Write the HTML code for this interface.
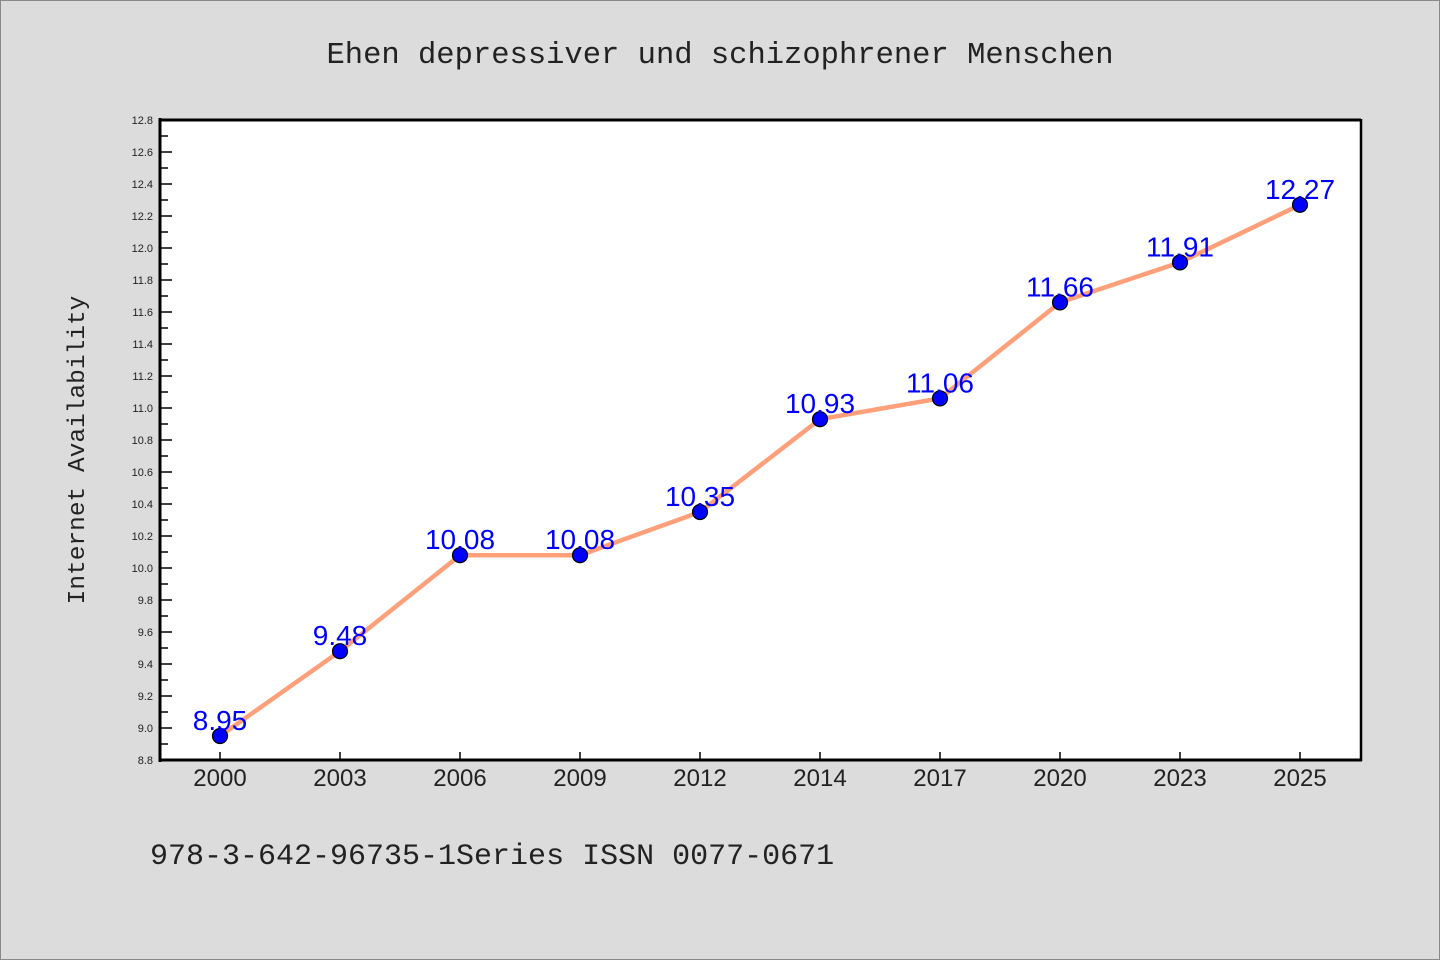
<!DOCTYPE html>
<html><head><meta charset="utf-8"><style>
html,body{margin:0;padding:0;background:#dcdcdc;}
svg{display:block;}
</style></head><body>
<svg width="1440" height="960" xmlns="http://www.w3.org/2000/svg">
<rect x="0.5" y="0.5" width="1439" height="959" fill="#dcdcdc" stroke="#888"/>
<text x="720" y="63" text-anchor="middle" font-family="'Liberation Mono','DejaVu Sans Mono',monospace" font-size="30.5" fill="#222">Ehen depressiver und schizophrener Menschen</text>
<rect x="160" y="120" width="1200" height="640" fill="#fff"/>
<g id="axes"></g>
<g id="series"></g>
<line x1="160" y1="120" x2="1361" y2="120" stroke="#000" stroke-width="3"/>
<line x1="1361" y1="119" x2="1361" y2="761" stroke="#000" stroke-width="2.5"/>
<line x1="160" y1="760" x2="1362" y2="760" stroke="#000" stroke-width="3"/>
<line x1="160" y1="118" x2="160" y2="762" stroke="#000" stroke-width="3"/>
<text transform="translate(84,450) rotate(-90)" text-anchor="middle" font-family="'Liberation Mono','DejaVu Sans Mono',monospace" font-size="24.5" fill="#222">Internet Availability</text>
<text x="150" y="864" font-family="'Liberation Mono','DejaVu Sans Mono',monospace" font-size="30" fill="#222">978-3-642-96735-1Series ISSN 0077-0671</text>
</svg>
<script>
const categories=["2000","2003","2006","2009","2012","2014","2017","2020","2023","2025"];
const values=[8.95,9.48,10.08,10.08,10.35,10.93,11.06,11.66,11.91,12.27];
const yTicks=["8.8","9.0","9.2","9.4","9.6","9.8","10.0","10.2","10.4","10.6","10.8","11.0","11.2","11.4","11.6","11.8","12.0","12.2","12.4","12.6","12.8"];
const NS="http://www.w3.org/2000/svg";
const yMin=8.8,yMax=12.8,pTop=120,pBot=760,pLeft=160,pRight=1360;
function yS(v){return pBot-(v-yMin)/(yMax-yMin)*(pBot-pTop);}
function xS(i){return pLeft+60+i*120;}
function mk(t,a){const e=document.createElementNS(NS,t);for(const k in a)e.setAttribute(k,a[k]);return e;}
const axes=document.getElementById('axes'),ser=document.getElementById('series');
yTicks.forEach(t=>{const v=parseFloat(t);const yy=yS(v);
 const l=mk('line',{x1:pLeft,x2:pLeft+12,y1:yy,y2:yy,stroke:'#000','stroke-width':1.5});
 
 
 axes.appendChild(l);
 if(v<yMax-0.01){const m=mk('line',{x1:pLeft,x2:pLeft+8,y1:yS(v+0.1),y2:yS(v+0.1),stroke:'#000','stroke-width':1.5});
 
 
 axes.appendChild(m);}
 const tx=mk('text',{x:pLeft-7,y:yy+4,'text-anchor':'end','font-family':"'Liberation Sans','DejaVu Sans',sans-serif",'font-size':11,fill:'#222'});
 tx.textContent=t;
 
 
 axes.appendChild(tx);});
categories.forEach((c,i)=>{const xx=xS(i);
 const l=mk('line',{x1:xx,x2:xx,y1:pBot,y2:pBot-8,stroke:'#000','stroke-width':1.5});
 
 
 axes.appendChild(l);
 const tx=mk('text',{x:xx,y:pBot+26,'text-anchor':'middle','font-family':"'Liberation Sans','DejaVu Sans',sans-serif",'font-size':24,fill:'#222'});
 tx.textContent=c;
 
 
 axes.appendChild(tx);});
const pts=values.map((v,i)=>xS(i)+','+yS(v)).join(' ');
const line=mk('polyline',{points:pts,fill:'none',stroke:'#FFA07A','stroke-width':4.5,'stroke-linejoin':'round'});


ser.appendChild(line);
values.forEach((v,i)=>{
 const c=mk('circle',{cx:xS(i),cy:yS(v),r:7.5,fill:'#0000ff',stroke:'#000','stroke-width':1.2});
 
 
 ser.appendChild(c);
 const t=mk('text',{x:xS(i),y:yS(v)-6,'text-anchor':'middle','font-family':"'Liberation Sans','DejaVu Sans',sans-serif",'font-size':28,fill:'#0000ff'});
 t.textContent=v.toFixed(2);
 
 
 ser.appendChild(t);});
</script>
</body></html>
